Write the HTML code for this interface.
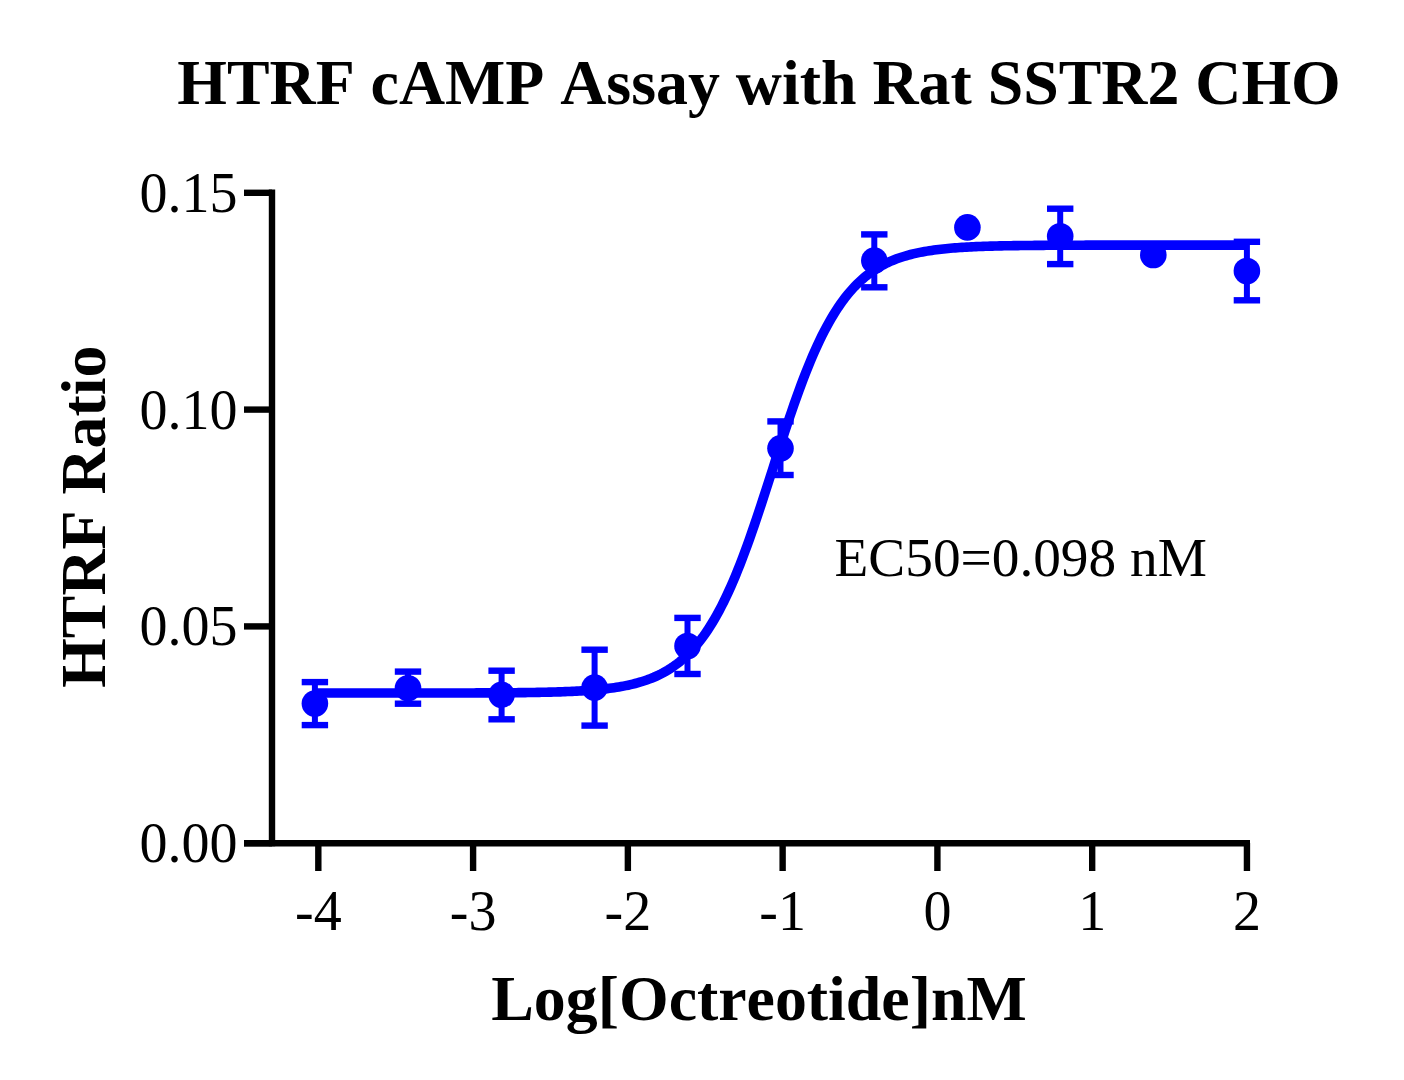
<!DOCTYPE html>
<html><head><meta charset="utf-8"><style>
html,body{margin:0;padding:0;background:#fff;}
body{width:1404px;height:1080px;overflow:hidden;}
svg{display:block;} text{font-kerning:none;font-feature-settings:"kern" 0;}
.tk{font-family:"Liberation Serif",serif;font-size:56px;fill:#000;}
.ec{font-family:"Liberation Serif",serif;font-size:55.3px;fill:#000;}
.bt{font-family:"Liberation Serif",serif;font-weight:bold;font-size:63.85px;fill:#000;}
</style></head><body>
<svg width="1404" height="1080" viewBox="0 0 1404 1080">
<text x="759" y="104.1" text-anchor="middle" class="bt">HTRF cAMP Assay with Rat SSTR2 CHO</text>
<text transform="translate(104.8,516.7) rotate(-90)" text-anchor="middle" class="bt">HTRF Ratio</text>
<text x="759" y="1019.6" text-anchor="middle" class="bt">Log[Octreotide]nM</text>
<text x="834.6" y="575.7" class="ec">EC50=0.098 nM</text>
<line x1="272" y1="189.6" x2="272" y2="846.2" stroke="#000" stroke-width="6.4"/>
<line x1="244" y1="843.2" x2="1250" y2="843.2" stroke="#000" stroke-width="6.4"/>
<line x1="244" y1="192.8" x2="272" y2="192.8" stroke="#000" stroke-width="6.4"/>
<line x1="244" y1="409.6" x2="272" y2="409.6" stroke="#000" stroke-width="6.4"/>
<line x1="244" y1="626.4" x2="272" y2="626.4" stroke="#000" stroke-width="6.4"/>
<line x1="244" y1="843.2" x2="272" y2="843.2" stroke="#000" stroke-width="6.4"/>
<text x="237.6" y="211.70000000000002" text-anchor="end" class="tk">0.15</text>
<text x="237.6" y="428.5" text-anchor="end" class="tk">0.10</text>
<text x="237.6" y="645.3" text-anchor="end" class="tk">0.05</text>
<text x="237.6" y="862.1" text-anchor="end" class="tk">0.00</text>
<line x1="318.32" y1="843" x2="318.32" y2="871" stroke="#000" stroke-width="6.4"/>
<line x1="473.09" y1="843" x2="473.09" y2="871" stroke="#000" stroke-width="6.4"/>
<line x1="627.86" y1="843" x2="627.86" y2="871" stroke="#000" stroke-width="6.4"/>
<line x1="782.63" y1="843" x2="782.63" y2="871" stroke="#000" stroke-width="6.4"/>
<line x1="937.40" y1="843" x2="937.40" y2="871" stroke="#000" stroke-width="6.4"/>
<line x1="1092.17" y1="843" x2="1092.17" y2="871" stroke="#000" stroke-width="6.4"/>
<line x1="1246.94" y1="843" x2="1246.94" y2="871" stroke="#000" stroke-width="6.4"/>
<text x="318.32" y="930" text-anchor="middle" class="tk">-4</text>
<text x="473.09" y="930" text-anchor="middle" class="tk">-3</text>
<text x="627.86" y="930" text-anchor="middle" class="tk">-2</text>
<text x="782.63" y="930" text-anchor="middle" class="tk">-1</text>
<text x="937.40" y="930" text-anchor="middle" class="tk">0</text>
<text x="1092.17" y="930" text-anchor="middle" class="tk">1</text>
<text x="1246.94" y="930" text-anchor="middle" class="tk">2</text>
<path d="M315.22,693.04 L317.56,693.04 L319.89,693.04 L322.23,693.04 L324.57,693.04 L326.90,693.04 L329.24,693.04 L331.57,693.04 L333.91,693.04 L336.24,693.04 L338.58,693.04 L340.91,693.04 L343.25,693.04 L345.58,693.04 L347.92,693.04 L350.25,693.04 L352.59,693.04 L354.92,693.04 L357.26,693.04 L359.59,693.04 L361.93,693.04 L364.26,693.03 L366.60,693.03 L368.93,693.03 L371.27,693.03 L373.60,693.03 L375.94,693.03 L378.27,693.03 L380.61,693.03 L382.94,693.03 L385.28,693.03 L387.61,693.03 L389.95,693.03 L392.28,693.03 L394.62,693.03 L396.95,693.03 L399.29,693.03 L401.62,693.03 L403.96,693.02 L406.29,693.02 L408.63,693.02 L410.96,693.02 L413.30,693.02 L415.64,693.02 L417.97,693.02 L420.31,693.02 L422.64,693.01 L424.98,693.01 L427.31,693.01 L429.65,693.01 L431.98,693.01 L434.32,693.00 L436.65,693.00 L438.99,693.00 L441.32,693.00 L443.66,692.99 L445.99,692.99 L448.33,692.99 L450.66,692.98 L453.00,692.98 L455.33,692.97 L457.67,692.97 L460.00,692.97 L462.34,692.96 L464.67,692.96 L467.01,692.95 L469.34,692.94 L471.68,692.94 L474.01,692.93 L476.35,692.92 L478.68,692.92 L481.02,692.91 L483.35,692.90 L485.69,692.89 L488.02,692.88 L490.36,692.87 L492.69,692.86 L495.03,692.84 L497.36,692.83 L499.70,692.82 L502.03,692.80 L504.37,692.79 L506.70,692.77 L509.04,692.75 L511.38,692.73 L513.71,692.71 L516.05,692.69 L518.38,692.66 L520.72,692.64 L523.05,692.61 L525.39,692.58 L527.72,692.55 L530.06,692.52 L532.39,692.48 L534.73,692.45 L537.06,692.41 L539.40,692.36 L541.73,692.32 L544.07,692.27 L546.40,692.22 L548.74,692.16 L551.07,692.11 L553.41,692.04 L555.74,691.98 L558.08,691.90 L560.41,691.83 L562.75,691.75 L565.08,691.66 L567.42,691.57 L569.75,691.47 L572.09,691.37 L574.42,691.25 L576.76,691.13 L579.09,691.01 L581.43,690.87 L583.76,690.73 L586.10,690.57 L588.43,690.41 L590.77,690.23 L593.10,690.04 L595.44,689.84 L597.77,689.63 L600.11,689.40 L602.45,689.16 L604.78,688.90 L607.12,688.63 L609.45,688.33 L611.79,688.02 L614.12,687.69 L616.46,687.33 L618.79,686.95 L621.13,686.55 L623.46,686.12 L625.80,685.66 L628.13,685.18 L630.47,684.66 L632.80,684.11 L635.14,683.52 L637.47,682.90 L639.81,682.23 L642.14,681.52 L644.48,680.77 L646.81,679.97 L649.15,679.12 L651.48,678.21 L653.82,677.25 L656.15,676.23 L658.49,675.15 L660.82,674.00 L663.16,672.78 L665.49,671.48 L667.83,670.11 L670.16,668.65 L672.50,667.11 L674.83,665.47 L677.17,663.74 L679.50,661.91 L681.84,659.97 L684.17,657.92 L686.51,655.76 L688.84,653.48 L691.18,651.07 L693.52,648.53 L695.85,645.85 L698.19,643.04 L700.52,640.08 L702.86,636.96 L705.19,633.69 L707.53,630.27 L709.86,626.67 L712.20,622.91 L714.53,618.98 L716.87,614.87 L719.20,610.59 L721.54,606.13 L723.87,601.48 L726.21,596.65 L728.54,591.64 L730.88,586.45 L733.21,581.08 L735.55,575.53 L737.88,569.81 L740.22,563.92 L742.55,557.86 L744.89,551.65 L747.22,545.28 L749.56,538.77 L751.89,532.13 L754.23,525.37 L756.56,518.49 L758.90,511.52 L761.23,504.46 L763.57,497.32 L765.90,490.13 L768.24,482.89 L770.57,475.63 L772.91,468.35 L775.24,461.07 L777.58,453.81 L779.91,446.58 L782.25,439.40 L784.58,432.28 L786.92,425.23 L789.26,418.28 L791.59,411.42 L793.93,404.68 L796.26,398.07 L798.60,391.59 L800.93,385.25 L803.27,379.07 L805.60,373.04 L807.94,367.18 L810.27,361.50 L812.61,355.98 L814.94,350.65 L817.28,345.49 L819.61,340.52 L821.95,335.73 L824.28,331.12 L826.62,326.69 L828.95,322.44 L831.29,318.37 L833.62,314.47 L835.96,310.74 L838.29,307.18 L840.63,303.79 L842.96,300.55 L845.30,297.47 L847.63,294.53 L849.97,291.75 L852.30,289.10 L854.64,286.58 L856.97,284.20 L859.31,281.94 L861.64,279.80 L863.98,277.78 L866.31,275.86 L868.65,274.05 L870.98,272.34 L873.32,270.72 L875.65,269.20 L877.99,267.76 L880.33,266.40 L882.66,265.12 L885.00,263.91 L887.33,262.77 L889.67,261.70 L892.00,260.69 L894.34,259.74 L896.67,258.85 L899.01,258.01 L901.34,257.22 L903.68,256.47 L906.01,255.78 L908.35,255.12 L910.68,254.50 L913.02,253.92 L915.35,253.38 L917.69,252.86 L920.02,252.38 L922.36,251.93 L924.69,251.51 L927.03,251.11 L929.36,250.74 L931.70,250.39 L934.03,250.06 L936.37,249.75 L938.70,249.46 L941.04,249.19 L943.37,248.93 L945.71,248.69 L948.04,248.47 L950.38,248.26 L952.71,248.06 L955.05,247.87 L957.38,247.70 L959.72,247.54 L962.05,247.39 L964.39,247.24 L966.72,247.11 L969.06,246.98 L971.40,246.86 L973.73,246.75 L976.07,246.65 L978.40,246.55 L980.74,246.46 L983.07,246.38 L985.41,246.30 L987.74,246.22 L990.08,246.15 L992.41,246.08 L994.75,246.02 L997.08,245.96 L999.42,245.91 L1001.75,245.86 L1004.09,245.81 L1006.42,245.77 L1008.76,245.72 L1011.09,245.69 L1013.43,245.65 L1015.76,245.61 L1018.10,245.58 L1020.43,245.55 L1022.77,245.52 L1025.10,245.50 L1027.44,245.47 L1029.77,245.45 L1032.11,245.43 L1034.44,245.41 L1036.78,245.39 L1039.11,245.37 L1041.45,245.35 L1043.78,245.34 L1046.12,245.32 L1048.45,245.31 L1050.79,245.29 L1053.12,245.28 L1055.46,245.27 L1057.79,245.26 L1060.13,245.25 L1062.47,245.24 L1064.80,245.23 L1067.14,245.22 L1069.47,245.22 L1071.81,245.21 L1074.14,245.20 L1076.48,245.19 L1078.81,245.19 L1081.15,245.18 L1083.48,245.18 L1085.82,245.17 L1088.15,245.17 L1090.49,245.16 L1092.82,245.16 L1095.16,245.16 L1097.49,245.15 L1099.83,245.15 L1102.16,245.15 L1104.50,245.14 L1106.83,245.14 L1109.17,245.14 L1111.50,245.14 L1113.84,245.13 L1116.17,245.13 L1118.51,245.13 L1120.84,245.13 L1123.18,245.13 L1125.51,245.12 L1127.85,245.12 L1130.18,245.12 L1132.52,245.12 L1134.85,245.12 L1137.19,245.12 L1139.52,245.12 L1141.86,245.12 L1144.19,245.11 L1146.53,245.11 L1148.86,245.11 L1151.20,245.11 L1153.53,245.11 L1155.87,245.11 L1158.21,245.11 L1160.54,245.11 L1162.88,245.11 L1165.21,245.11 L1167.55,245.11 L1169.88,245.11 L1172.22,245.11 L1174.55,245.11 L1176.89,245.11 L1179.22,245.11 L1181.56,245.11 L1183.89,245.10 L1186.23,245.10 L1188.56,245.10 L1190.90,245.10 L1193.23,245.10 L1195.57,245.10 L1197.90,245.10 L1200.24,245.10 L1202.57,245.10 L1204.91,245.10 L1207.24,245.10 L1209.58,245.10 L1211.91,245.10 L1214.25,245.10 L1216.58,245.10 L1218.92,245.10 L1221.25,245.10 L1223.59,245.10 L1225.92,245.10 L1228.26,245.10 L1230.59,245.10 L1232.93,245.10 L1235.26,245.10 L1237.60,245.10 L1239.93,245.10 L1242.27,245.10 L1244.60,245.10 L1246.94,245.10" fill="none" stroke="#0000ff" stroke-width="9.6"/>
<line x1="314.9" y1="682.1" x2="314.9" y2="725.1" stroke="#0000ff" stroke-width="6"/>
<line x1="301.7" y1="682.1" x2="328.09999999999997" y2="682.1" stroke="#0000ff" stroke-width="6.4"/>
<line x1="301.7" y1="725.1" x2="328.09999999999997" y2="725.1" stroke="#0000ff" stroke-width="6.4"/>
<circle cx="314.9" cy="703.6" r="13.3" fill="#0000ff"/>
<line x1="408" y1="671.6" x2="408" y2="703.7" stroke="#0000ff" stroke-width="6"/>
<line x1="394.8" y1="671.6" x2="421.2" y2="671.6" stroke="#0000ff" stroke-width="6.4"/>
<line x1="394.8" y1="703.7" x2="421.2" y2="703.7" stroke="#0000ff" stroke-width="6.4"/>
<circle cx="408" cy="688.2" r="13.3" fill="#0000ff"/>
<line x1="501.6" y1="670.7" x2="501.6" y2="719.3" stroke="#0000ff" stroke-width="6"/>
<line x1="488.40000000000003" y1="670.7" x2="514.8000000000001" y2="670.7" stroke="#0000ff" stroke-width="6.4"/>
<line x1="488.40000000000003" y1="719.3" x2="514.8000000000001" y2="719.3" stroke="#0000ff" stroke-width="6.4"/>
<circle cx="501.6" cy="694.8" r="13.3" fill="#0000ff"/>
<line x1="594.6" y1="649.7" x2="594.6" y2="725.6" stroke="#0000ff" stroke-width="6"/>
<line x1="581.4" y1="649.7" x2="607.8000000000001" y2="649.7" stroke="#0000ff" stroke-width="6.4"/>
<line x1="581.4" y1="725.6" x2="607.8000000000001" y2="725.6" stroke="#0000ff" stroke-width="6.4"/>
<circle cx="594.6" cy="687.6" r="13.3" fill="#0000ff"/>
<line x1="687.5" y1="617.9" x2="687.5" y2="674" stroke="#0000ff" stroke-width="6"/>
<line x1="674.3" y1="617.9" x2="700.7" y2="617.9" stroke="#0000ff" stroke-width="6.4"/>
<line x1="674.3" y1="674" x2="700.7" y2="674" stroke="#0000ff" stroke-width="6.4"/>
<circle cx="687.5" cy="646" r="13.3" fill="#0000ff"/>
<line x1="780.5" y1="421.4" x2="780.5" y2="475" stroke="#0000ff" stroke-width="6"/>
<line x1="767.3" y1="421.4" x2="793.7" y2="421.4" stroke="#0000ff" stroke-width="6.4"/>
<line x1="767.3" y1="475" x2="793.7" y2="475" stroke="#0000ff" stroke-width="6.4"/>
<circle cx="780.5" cy="448.3" r="13.3" fill="#0000ff"/>
<line x1="874.3" y1="234.4" x2="874.3" y2="287.3" stroke="#0000ff" stroke-width="6"/>
<line x1="861.0999999999999" y1="234.4" x2="887.5" y2="234.4" stroke="#0000ff" stroke-width="6.4"/>
<line x1="861.0999999999999" y1="287.3" x2="887.5" y2="287.3" stroke="#0000ff" stroke-width="6.4"/>
<circle cx="874.3" cy="260.6" r="13.3" fill="#0000ff"/>
<circle cx="967.4" cy="227.4" r="13.3" fill="#0000ff"/>
<line x1="1060.2" y1="208.7" x2="1060.2" y2="264.1" stroke="#0000ff" stroke-width="6"/>
<line x1="1047.0" y1="208.7" x2="1073.4" y2="208.7" stroke="#0000ff" stroke-width="6.4"/>
<line x1="1047.0" y1="264.1" x2="1073.4" y2="264.1" stroke="#0000ff" stroke-width="6.4"/>
<circle cx="1060.2" cy="236.2" r="13.3" fill="#0000ff"/>
<circle cx="1153.3" cy="255" r="13.3" fill="#0000ff"/>
<line x1="1246.9" y1="241.8" x2="1246.9" y2="300.3" stroke="#0000ff" stroke-width="6"/>
<line x1="1233.7" y1="241.8" x2="1260.1000000000001" y2="241.8" stroke="#0000ff" stroke-width="6.4"/>
<line x1="1233.7" y1="300.3" x2="1260.1000000000001" y2="300.3" stroke="#0000ff" stroke-width="6.4"/>
<circle cx="1246.9" cy="271" r="13.3" fill="#0000ff"/>
</svg>
</body></html>
